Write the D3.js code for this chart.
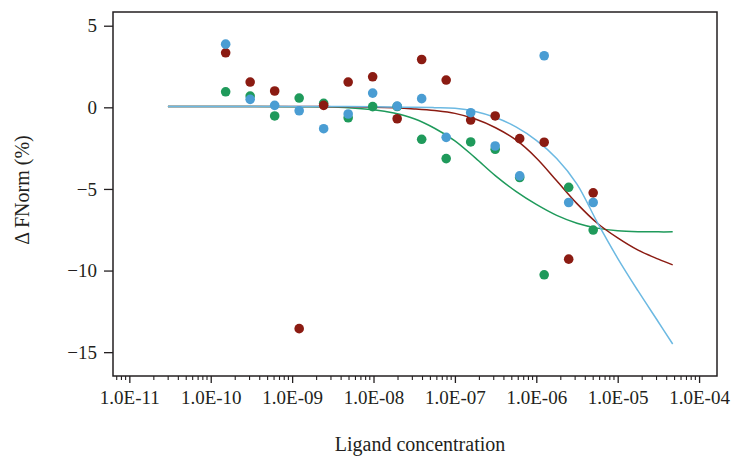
<!DOCTYPE html>
<html>
<head>
<meta charset="utf-8">
<script src="https://cdnjs.cloudflare.com/ajax/libs/d3/7.8.5/d3.min.js"></script>
<style>
  html, body { margin: 0; padding: 0; background: #fff; }
  .content { width: 736px; height: 457px; }
  text { font-family: "Liberation Serif", "DejaVu Serif", serif; fill: #231f20; }
</style>
</head>
<body>
<div class="content"></div>
<script>
// ligand concentrations (M), 2-fold dilution series
var concentrations = [1.526e-10, 3.052e-10, 6.104e-10, 1.221e-9, 2.441e-9, 4.883e-9, 9.766e-9,
  1.953e-8, 3.906e-8, 7.813e-8, 1.5625e-7, 3.125e-7, 6.25e-7, 1.25e-6, 2.5e-6, 5e-6];

var redValues = [3.34, 1.55, 1.0, -13.56, 0.12, 1.55, 1.87, -0.7, 2.93, 1.67, -0.78, -0.53, -1.92, -2.14, -9.3, -5.24];
var greenValues = [0.95, 0.69, -0.53, 0.57, 0.24, -0.64, 0.04, 0.05, -1.96, -3.14, -2.12, -2.57, -4.3, -10.26, -4.9, -7.52];
var blueValues = [3.87, 0.49, 0.12, -0.21, -1.31, -0.41, 0.87, 0.08, 0.53, -1.84, -0.33, -2.37, -4.2, 3.16, -5.83, -5.83];

var fitConc = [2.98e-11, 1e-9, 3.16e-9, 1e-8, 1.78e-8, 3.16e-8, 5.62e-8, 1e-7, 1.78e-7, 3.16e-7,
  5.62e-7, 1e-6, 1.78e-6, 3.16e-6, 5.62e-6, 1e-5, 1.78e-5, 3.16e-5, 4.74e-5];
var greenFit = [0.05, 0.04, 0.02, -0.15, -0.35, -0.7, -1.28, -2.05, -3.1, -4.2, -5.15, -5.95, -6.62, -7.1, -7.4, -7.56, -7.62, -7.63, -7.63];
var redFit = [0.05, 0.05, 0.04, 0.01, -0.03, -0.1, -0.2, -0.37, -0.72, -1.25, -2.0, -3.1, -4.5, -5.9, -7.1, -8.0, -8.75, -9.3, -9.65];
var blueFit = [0.05, 0.05, 0.05, 0.04, 0.02, 0.0, -0.02, -0.06, -0.25, -0.62, -1.2, -2.02, -3.13, -4.7, -7.05, -9.25, -11.25, -13.15, -14.5];

var xTicks = [1e-11, 1e-10, 1e-9, 1e-8, 1e-7, 1e-6, 1e-5, 1e-4];
var xTickLabels = ["1.0E-11", "1.0E-10", "1.0E-09", "1.0E-08", "1.0E-07", "1.0E-06", "1.0E-05", "1.0E-04"];
var yTicks = [5, 0, -5, -10, -15];

var series = [
  { name: 'green', values: greenValues, fit: greenFit, dot: '#1f9a5b', line: '#1f9a5b' },
  { name: 'red', values: redValues, fit: redFit, dot: '#8b1b12', line: '#8b1b12' },
  { name: 'blue', values: blueValues, fit: blueFit, dot: '#4a9dd3', line: '#6cb9e2' }
];

var svg = d3.select(".content")
  .append('svg')
  .attr('width', 736)
  .attr('height', 457);

var box = {left: 113, right: 717, top: 12, bottom: 376};

var x = d3.scaleLog().domain([6.3e-12, 1.66e-4]).range([box.left, box.right]);
var y = d3.scaleLinear().domain([-16.46, 5.84]).range([box.bottom, box.top]);

// minor ticks for the log axis
var minorTicks = x.ticks().filter(function(d) {
  return xTicks.indexOf(d) < 0 && d >= x.domain()[0] && d <= x.domain()[1];
});

var axis_x = svg.append("g")
  .attr("class", "axis axis--x")
  .attr("transform", "translate(0," + box.bottom + ")")
  .call(d3.axisBottom(x).tickValues(xTicks).tickSize(7).tickPadding(8)
    .tickFormat(function(d, i) { return xTickLabels[i]; }));
axis_x.select(".domain").remove();
axis_x.selectAll("line").attr("stroke", "#231f20").attr("stroke-width", 1.3);
axis_x.selectAll("text").style("font-size", "19px").style("font-family", "Liberation Serif").attr("fill", "#231f20");

svg.append("g")
  .attr("class", "minor")
  .selectAll("line")
  .data(minorTicks)
  .enter()
  .append("line")
  .attr("x1", function(d) { return x(d); })
  .attr("x2", function(d) { return x(d); })
  .attr("y1", box.bottom)
  .attr("y2", box.bottom + 4)
  .attr("stroke", "#231f20")
  .attr("stroke-width", 1.1);

var axis_y = svg.append("g")
  .attr("class", "axis axis--y")
  .attr("transform", "translate(" + box.left + ",0)")
  .call(d3.axisLeft(y).tickValues(yTicks).tickSize(9).tickPadding(7));
axis_y.select(".domain").remove();
axis_y.selectAll("line").attr("stroke", "#231f20").attr("stroke-width", 1.3);
axis_y.selectAll("text").style("font-size", "19px").style("font-family", "Liberation Serif").attr("fill", "#231f20");

// frame
svg.append("rect")
  .attr("x", box.left)
  .attr("y", box.top)
  .attr("width", box.right - box.left)
  .attr("height", box.bottom - box.top)
  .attr("fill", "none")
  .attr("stroke", "#231f20")
  .attr("stroke-width", 1.5);

var line = d3.line()
  .x(function(d) { return x(d[0]); })
  .y(function(d) { return y(d[1]); })
  .curve(d3.curveCatmullRom.alpha(0.5));

var plot = svg.append("g").attr("class", "plot");

series.forEach(function(s) {
  plot.append("path")
    .datum(fitConc.map(function(c, i) { return [c, s.fit[i]]; }))
    .attr("d", line)
    .attr("fill", "none")
    .attr("stroke", s.line)
    .attr("stroke-width", 1.5);
});

series.forEach(function(s) {
  plot.append("g")
    .attr("class", "dots-" + s.name)
    .selectAll("circle")
    .data(s.values)
    .enter()
    .append("circle")
    .attr("cx", function(d, i) { return x(concentrations[i]); })
    .attr("cy", function(d) { return y(d); })
    .attr("r", 4.8)
    .attr("fill", s.dot);
});

svg.append("text")
  .attr("x", 420)
  .attr("y", 451)
  .attr("text-anchor", "middle")
  .style("font-size", "20px")
  .text("Ligand concentration");

svg.append("text")
  .attr("transform", "translate(29,190) rotate(-90)")
  .attr("text-anchor", "middle")
  .style("font-size", "20px")
  .text("Δ FNorm (%)");
</script>
</body>
</html>
